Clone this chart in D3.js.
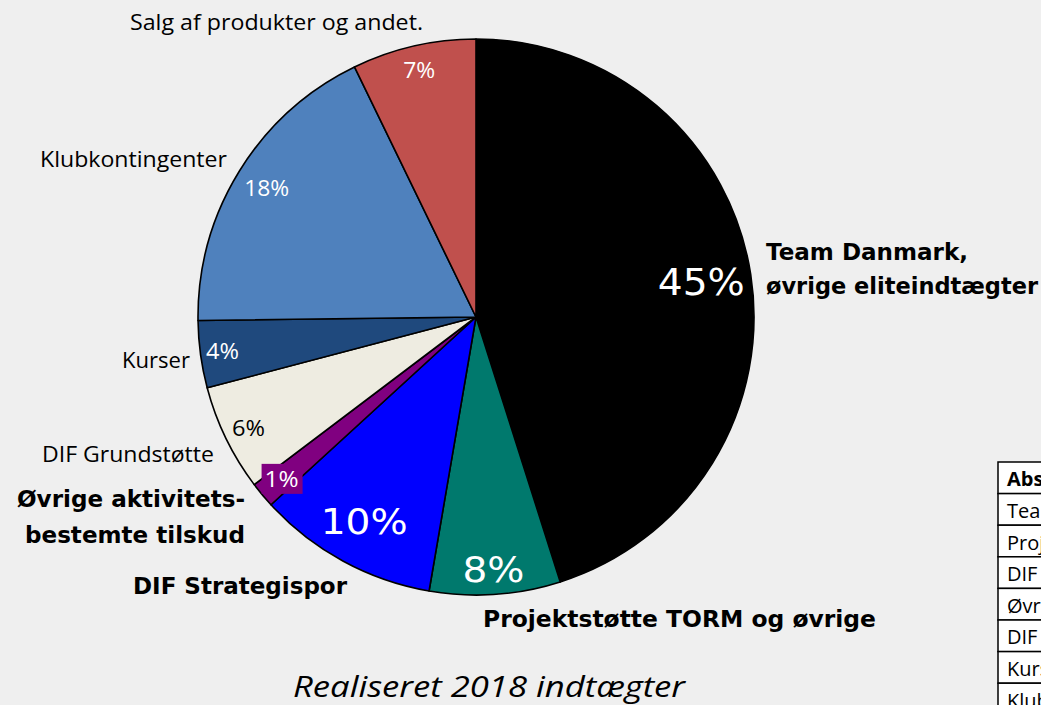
<!DOCTYPE html>
<html><head><meta charset="utf-8">
<script src="https://cdn.jsdelivr.net/npm/d3@7"></script>
<style>
html,body{margin:0;padding:0;background:#efefef;}
svg{display:block;}
</style></head>
<body>
<script>
// ---- data ----
const categories = [
  "Team Danmark, øvrige eliteindtægter",
  "Projektstøtte TORM og øvrige",
  "DIF Strategispor",
  "Øvrige aktivitetsbestemte tilskud",
  "DIF Grundstøtte",
  "Kurser",
  "Klubkontingenter",
  "Salg af produkter og andet."
];
const shares = [45.1, 7.6, 10.5, 1.5, 6.2, 3.9, 18.0, 7.2];
const pctLabels = ["45%", "8%", "10%", "1%", "6%", "4%", "18%", "7%"];
const colors = ["#000000", "#00796d", "#0000ff", "#800080", "#eeece1", "#1f497d", "#4f81bd", "#c0504d"];
const tableRows = ["Absolutte tal", "Team Danmark", "Projektstøtte", "DIF Strategispor",
  "Øvrige", "DIF Grundstøtte", "Kurser", "Klubkontingenter"];
const title = "Realiseret 2018 indtægter";

// ---- layout ----
const W = 1041, H = 705;
const cx = 476, cy = 317, R = 278;
const svg = d3.select("body").append("svg").attr("width", W).attr("height", H);
svg.append("rect").attr("width", W).attr("height", H).attr("fill", "#efefef");

const pie = d3.pie().sort(null).value(d => d).startAngle(0).endAngle(2 * Math.PI);
const arcs = pie(shares);
const arc = d3.arc().innerRadius(0).outerRadius(R);
const g = svg.append("g").attr("transform", `translate(${cx},${cy})`);
g.selectAll("path").data(arcs).join("path")
  .attr("d", arc).attr("fill", (d, i) => colors[i])
  .attr("stroke", "#000").attr("stroke-width", 1.6).attr("stroke-linejoin", "round");

// percentage labels
const bigFont = "'DejaVu Sans', sans-serif";
const smallFont = "'Open Sans', 'Liberation Sans', sans-serif";
const pctStyle = [
  {r: 0.82, big: true, size: 38, w: 87, fill: "#fff"},
  {r: 0.91, big: true, size: 36, w: 62, fill: "#fff"},
  {r: 0.84, big: true, size: 36, w: 87, fill: "#fff"},
  {r: 0.91, big: false, size: 21, w: 34, fill: "#fff", box: "#800080"},
  {r: 0.91, big: false, size: 21, w: 33, fill: "#000"},
  {r: 0.92, big: false, size: 21, w: 33, fill: "#fff"},
  {r: 0.885, big: false, size: 21, w: 45, fill: "#fff"},
  {r: 0.91, big: false, size: 21, w: 32, fill: "#fff"}
];
arcs.forEach((d, i) => {
  const s = pctStyle[i];
  const a = (d.startAngle + d.endAngle) / 2;
  const x = Math.sin(a) * R * s.r, y = -Math.cos(a) * R * s.r;
  if (s.box) {
    g.append("rect").attr("x", x - 20).attr("y", y - 15).attr("width", 41).attr("height", 30).attr("fill", s.box);
  }
  g.append("text").attr("x", x).attr("y", y)
    .attr("text-anchor", "middle").attr("dominant-baseline", "central")
    .attr("font-family", s.big ? bigFont : smallFont)
    .attr("font-size", s.size).attr("fill", s.fill)
    .attr("textLength", s.w).attr("lengthAdjust", "spacingAndGlyphs")
    .text(pctLabels[i]);
});

// category labels
const boldFont = "'DejaVu Sans', sans-serif";
const catLabels = [
  {lines: ["Team Danmark,", "øvrige eliteindtægter"], x: 766, y: [260, 294], anchor: "start", bold: true, w: [202, 272]},
  {lines: ["Projektstøtte TORM og øvrige"], x: 483, y: [627], anchor: "start", bold: true, w: [393]},
  {lines: ["DIF Strategispor"], x: 347, y: [594], anchor: "end", bold: true, w: [214]},
  {lines: ["Øvrige aktivitets-", "bestemte tilskud"], x: 245, y: [507, 543], anchor: "end", bold: true, w: [228, 220]},
  {lines: ["DIF Grundstøtte"], x: 214, y: [462], anchor: "end", bold: false, w: [172]},
  {lines: ["Kurser"], x: 190, y: [368], anchor: "end", bold: false, w: [68]},
  {lines: ["Klubkontingenter"], x: 227, y: [167], anchor: "end", bold: false, w: [187]},
  {lines: ["Salg af produkter og andet."], x: 423, y: [30], anchor: "end", bold: false, w: [293]}
];
catLabels.forEach((c, i) => {
  c.lines.forEach((ln, j) => {
    svg.append("text").attr("x", c.x).attr("y", c.y[j])
      .attr("text-anchor", c.anchor)
      .attr("font-family", c.bold ? boldFont : smallFont)
      .attr("font-weight", c.bold ? "bold" : "normal")
      .attr("font-size", c.bold ? 23 : 21)
      .attr("fill", "#000")
      .attr("textLength", c.w[j]).attr("lengthAdjust", "spacingAndGlyphs")
      .text(ln);
  });
});

// title
svg.append("text").attr("x", 489).attr("y", 697).attr("text-anchor", "middle")
  .attr("font-family", smallFont).attr("font-style", "italic").attr("font-size", 30)
  .attr("fill", "#000").attr("textLength", 392).attr("lengthAdjust", "spacingAndGlyphs")
  .text(title);

// table (clipped at right edge)
const tx = 998, ty = 462, rh = 31.6;
const tg = svg.append("g");
tableRows.forEach((t, i) => {
  tg.append("rect").attr("x", tx).attr("y", ty + i * rh).attr("width", 400).attr("height", rh)
    .attr("fill", "#fff").attr("stroke", "#000").attr("stroke-width", 1.5);
  tg.append("text").attr("x", tx + 9).attr("y", ty + i * rh + rh / 2 + 1)
    .attr("dominant-baseline", "central")
    .attr("font-family", smallFont).attr("font-size", 20)
    .attr("font-weight", i === 0 ? "bold" : "normal").attr("fill", "#000")
    .text(t);
});
</script>
</body></html>
